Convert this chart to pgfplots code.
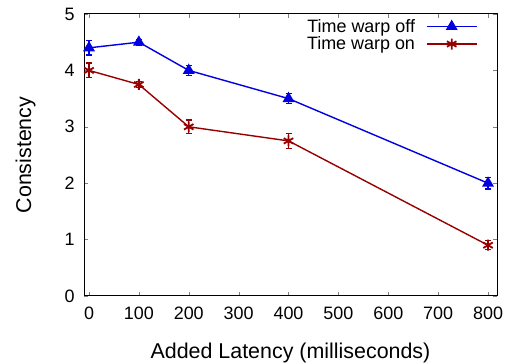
\documentclass[border=0pt]{standalone}
\usepackage{pgfplots}
\pgfplotsset{compat=1.18}
\usepackage{fontspec}
\setmainfont{Liberation Sans}
\definecolor{cblue}{RGB}{0,0,225}
\definecolor{cred}{RGB}{150,0,0}
\begin{document}
\begin{tikzpicture}[x=1bp,y=1bp]
\begin{axis}[
  scale only axis,
  width=413bp, height=282bp,
  xmin=-10, xmax=818,
  ymin=0, ymax=5,
  xtick={0,100,...,800},
  ytick={0,1,2,3,4,5},
  tick align=inside,
  major tick length=4bp,
  /pgf/number format/assume math mode=true,
  tick label style={font=\fontsize{18}{20}\selectfont},
  xticklabel style={yshift=-7bp},
  yticklabel style={xshift=-6bp},
  label style={font=\fontsize{21.5}{24}\selectfont},
  xlabel={Added Latency (milliseconds)},
  ylabel={Consistency},
  xlabel style={yshift=-17bp},
  ylabel style={yshift=22bp},
  axis line style={line width=1bp},
  legend style={draw=none, fill=none, at={(0.953,0.982)}, anchor=north east,
    font=\fontsize{18}{18}\selectfont, row sep=3bp, column sep=11bp, cells={anchor=east},
    inner sep=0pt, nodes={inner sep=0bp}},
  legend plot pos=right,
  legend image code/.code={
    \draw[mark repeat=2, mark phase=2, #1] plot coordinates {(0bp,0bp) (25bp,0bp) (50bp,0bp)};
  },
]
\addplot[cblue, line width=1.4bp, mark=triangle*, mark size=5.5bp,
  error bars/.cd, y dir=both, y explicit, error bar style={line width=1.4bp},
  error mark options={rotate=90, mark size=3bp, line width=1.4bp}]
  coordinates {
  (0,4.4) +- (0,0.13)
  (100,4.5) +- (0,0.05)
  (200,4.0) +- (0,0.09)
  (400,3.5) +- (0,0.09)
  (800,2.0) +- (0,0.1)
};
\addlegendentry{Time warp off}
\addplot[cred, line width=1.4bp, mark=asterisk, mark size=5.5bp,
  mark options={line width=1.8bp},
  error bars/.cd, y dir=both, y explicit, error bar style={line width=1.4bp},
  error mark options={rotate=90, mark size=3bp, line width=1.4bp}]
  coordinates {
  (0,4.0) +- (0,0.13)
  (100,3.75) +- (0,0.05)
  (200,3.0) +- (0,0.12)
  (400,2.75) +- (0,0.13)
  (800,0.9) +- (0,0.08)
};
\addlegendentry{Time warp on}
\end{axis}
\pgfresetboundingbox
\path ([shift={(-84bp,-67bp)}]current axis.south west) rectangle ([shift={(11bp,14bp)}]current axis.north east);
\end{tikzpicture}
\end{document}
